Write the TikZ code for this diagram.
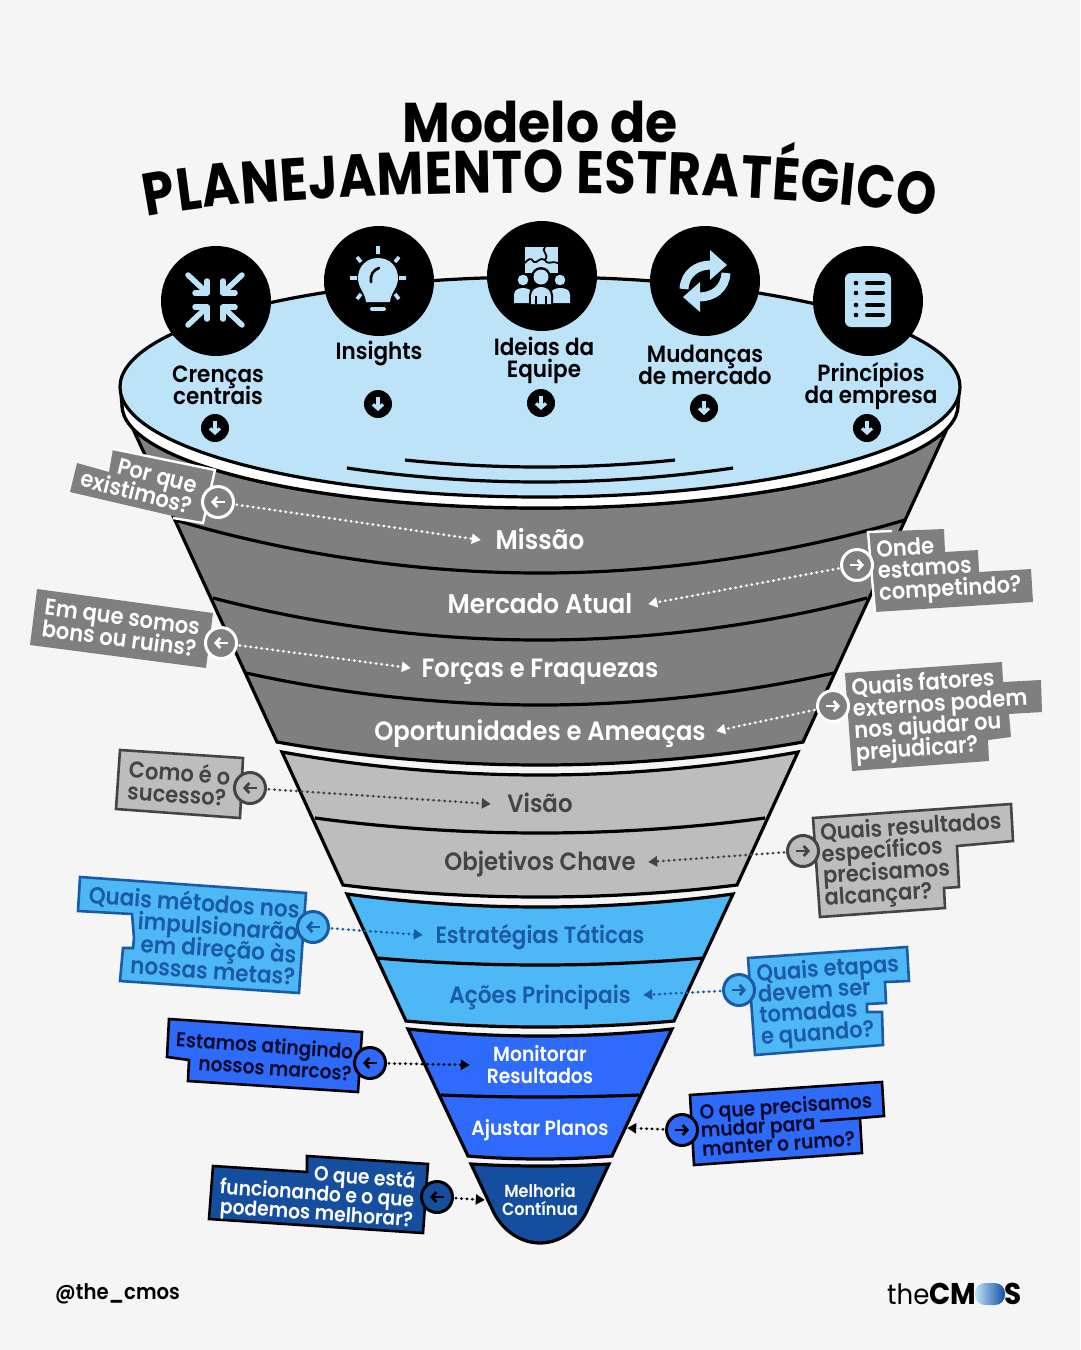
\documentclass[tikz,border=0pt]{standalone}
\usepackage{fontspec}
\setmainfont{Poppins}[UprightFont=* SemiBold,BoldFont=* Bold,FakeStretch=0.915]
\newfontfamily\titlefont{Poppins}[UprightFont=* Bold,FakeStretch=0.93]
\newfontfamily\arcfont{Poppins}[UprightFont=* Bold,FakeStretch=0.85]
\newfontfamily\regfont{Poppins}[FakeStretch=0.93]
\newcommand\fz[2]{\fontsize{#1}{#2}\selectfont\lineskiplimit=-100pt\relax}
\usetikzlibrary{arrows.meta,decorations.text,shapes.geometric}
\definecolor{bgc}{HTML}{F5F5F5}
\definecolor{bowl}{HTML}{BDE3F8}
\definecolor{gA}{HTML}{7F7F7F}
\definecolor{gB}{HTML}{BDBDBD}
\definecolor{gT}{HTML}{444444}
\definecolor{sky}{HTML}{4DB8F5}
\definecolor{skyT}{HTML}{1A5AA8}
\definecolor{roy}{HTML}{2F6BFA}
\definecolor{deep}{HTML}{164E9F}
\definecolor{inkk}{HTML}{050A2A}
\tikzset{
 seg/.style={draw=black,line width=3.2pt,line join=miter},
 divline/.style={draw=black,line width=3.2pt},
 lab/.style={font=\fz{#1}{#1},align=center,inner sep=0pt,text height={#1*0.7},text depth=0pt},
 cbtext/.style={font=\fz{23}{21.7},inner sep=0pt},
 bowltext/.style={font=\fz{23.5}{22},align=center,inner sep=0pt,text=black},
 bub/.style={circle,minimum size=31pt,inner sep=0pt,line width=3pt},
 dots/.style={line width=3pt,line cap=round,dash pattern=on 0pt off 5.5pt,shorten <=2pt,-{Triangle[length=9pt,width=10pt,sep=0pt]}},
 glyph/.style={line width=2.8pt,-{Straight Barb[length=4.5pt,width=10pt]}},
 ic/.style={draw=bowl,line width=5.5pt},
 btn/.style={circle,fill=black,minimum size=28pt,inner sep=0pt},
 blackc/.style={circle,fill=black,minimum size=110pt,inner sep=0pt},
}
\begin{document}
\begin{tikzpicture}[x=1pt,y=-1pt]
\useasboundingbox (0,0) rectangle (1080,1350);
\fill[bgc] (0,0) rectangle (1080,1350);

% title
\node[font=\titlefont\fontsize{56}{56}\selectfont,inner sep=0pt] (t1) at (540,122) {Modelo de};
\path[decorate,decoration={text along path,text align={fit to path},
 text={|\arcfont\fontsize{60}{60}\selectfont|PLANEJAMENTO ESTRATÉGICO}}]
 (147,217) .. controls (300,185) and (780,185) .. (933,217);

% funnel dark grey group
\path[seg,fill=gA] (122,405) .. controls (122,462) and (309,508) .. (540,508)
  .. controls (771,508) and (958,462) .. (958,405) -- (803,742)
  parabola bend (540,765) (277,742) -- cycle;
\path[divline] (175,520) parabola bend (540,573) (905,520);
\path[divline] (213,598) parabola bend (540,640) (867,598);
\path[divline] (246,673) parabola bend (540,705) (834,673);
% rim and bowl
\fill[white] (122,405) .. controls (122,462) and (309,508) .. (540,508)
  .. controls (771,508) and (958,462) .. (958,405) -- cycle;
\draw[line width=3.2pt] (122,405) .. controls (122,462) and (309,508) .. (540,508)
  .. controls (771,508) and (958,462) .. (958,405);
\draw[fill=bowl,line width=3.2pt] (540,387) ellipse [x radius=420pt,y radius=110pt];
\path[divline] (347,468) parabola bend (540,482) (733,468);
\path[divline] (405,460) parabola bend (540,467) (675,460);

% light grey group
\path[seg,fill=gB] (282,752) parabola bend (540,775) (798,752) -- (737,885)
  parabola bend (540,897) (343,885) -- cycle;
\path[divline] (315,818) parabola bend (540,833) (765,818);
% sky group
\path[seg,fill=sky] (347,894) parabola bend (540,907) (733,894) -- (674,1021)
  parabola bend (540,1027) (406,1021) -- cycle;
\path[divline] (377,958) parabola bend (540,965) (703,958);
% royal group
\path[seg,fill=roy] (408,1029) parabola bend (540,1036) (672,1029) -- (612,1156)
  parabola bend (540,1159) (468,1156) -- cycle;
\path[divline] (441,1095) parabola bend (540,1097) (639,1095);
% bottom
\path[seg,fill=deep] (471,1164) parabola bend (540,1166) (609,1164) -- (586,1213)
  .. controls (576,1232) and (558,1243) .. (540,1243)
  .. controls (522,1243) and (504,1232) .. (494,1213) -- cycle;

% funnel labels
\node[lab=27,text=white,minimum width=118pt] (l1) at (540,540) {Missão};
\node[lab=27,text=white,minimum width=216pt] (l2) at (540,604) {Mercado Atual};
\node[lab=26.5,text=white,minimum width=258pt] (l3) at (540,668) {Forças e Fraquezas};
\node[lab=26.5,text=white,minimum width=352pt] (l4) at (540,731) {Oportunidades e Ameaças};
\node[lab=25,text=gT,minimum width=98pt] (l5) at (540,804) {Visão};
\node[lab=25,text=gT,minimum width=216pt] (l6) at (540,862) {Objetivos Chave};
\node[lab=23.5,text=skyT,minimum width=234pt] (l7) at (540,935) {Estratégias Táticas};
\node[lab=23.7,text=skyT,minimum width=206pt] (l8) at (540,995) {Ações Principais};
\node[font=\fz{20.5}{22},align=center,inner sep=0pt,text=white,minimum width=140pt] (l9) at (540,1065) {Monitorar\\Resultados};
\node[lab=20.5,text=white,minimum width=174pt] (l10) at (540,1128) {Ajustar Planos};
\node[font=\fz{17.5}{18},align=center,inner sep=0pt,text=white,minimum width=110pt] (l11) at (540,1200) {Melhoria\\Contínua};

% bowl icons and labels
\node[blackc] (i1) at (216,301) {};
\node[blackc] (i2) at (379,281) {};
\node[blackc] (i3) at (542,276) {};
\node[blackc] (i4) at (705,281) {};
\node[blackc] (i5) at (868,301) {};
\node[bowltext] (b1) at (218,385) {Crenças\\centrais};
\node[bowltext] (b2) at (379,353) {Insights};
\node[bowltext] (b3) at (544,360) {Ideias da\\Equipe};
\node[bowltext] (b4) at (705,365) {Mudanças\\de mercado};
\node[bowltext] (b5) at (871,386) {Princípios\\da empresa};
\foreach \nm/\x/\y in {d1/215/428,d2/378/404,d3/541/403,d4/704/408,d5/867/428}{
  \node[btn] (\nm) at (\x,\y) {};
  \draw[glyph,draw=bowl,line width=3.2pt] ([yshift=7pt]\nm.center) -- ([yshift=-7pt]\nm.center);
}
% icon 1
\begin{scope}[shift={(215,300)}]
 \foreach \sx/\sy in {1/1,-1/1,1/-1,-1/-1}{
  \draw[ic,line cap=round] (\sx*27,\sy*25) -- (\sx*10,\sy*9);
  \draw[ic,line join=round,line cap=round] (\sx*8,\sy*19) -- (\sx*8,\sy*7) -- (\sx*20,\sy*7);
 }
\end{scope}
% icon 2
\begin{scope}[shift={(378,280)}]
 \fill[bowl] (-20,-2) .. controls (-20,-14) and (-11,-22) .. (0,-22)
   .. controls (11,-22) and (20,-14) .. (20,-2)
   .. controls (20,8) and (13,12) .. (12,22) -- (-12,22)
   .. controls (-13,12) and (-20,8) .. (-20,-2) -- cycle;
 \draw[black,line width=2.6pt,line cap=round] (-7,2) .. controls (-8,-5) and (-5,-10) .. (1,-12);
 \draw[bowl,line width=4pt,line cap=round] (-6,29) -- (6,29);
 \draw[bowl,line width=3.6pt,line cap=butt] (0,-34) -- (0,-26) (-28,-2) -- (-21,-2) (21,-2) -- (28,-2)
   (-21,-23) -- (-17,-18) (21,-23) -- (17,-18) (-21,19) -- (-17,14) (21,19) -- (17,14);
\end{scope}
% icon 3
\begin{scope}[shift={(542,276)}]
 \fill[bowl] (-17,-29) rectangle (16,-3);
 \draw[black,line width=1.8pt] (3,-29) .. controls (-2,-25) and (8,-22) .. (3,-16)
    .. controls (-2,-20) and (-5,-12) .. (-8,-14) .. controls (-11,-19) and (-14,-17) .. (-17,-13)
    (3,-16) .. controls (6,-10) and (10,-16) .. (16,-13);
 \fill[black] (-1,1) circle [radius=10pt];
 \fill[black] (-19,4) circle [radius=7pt];
 \fill[black] (18,4) circle [radius=7pt];
 \fill[bowl] (-1,1) circle [radius=7.5pt];
 \fill[bowl] (-19,4) circle [radius=5.3pt];
 \fill[bowl] (18,4) circle [radius=5.3pt];
 \fill[bowl] (-28,27) -- (-28,19) .. controls (-28,14) and (-24,12) .. (-19,12) .. controls (-15,12) and (-11,14) .. (-10,16) -- (-10,27) -- cycle;
 \fill[bowl] (28,27) -- (28,19) .. controls (28,14) and (24,12) .. (18,12) .. controls (14,12) and (10,14) .. (9,16) -- (9,27) -- cycle;
 \fill[black] (-13,29) -- (-13,19) .. controls (-13,13) and (-7,9) .. (-1,9) .. controls (5,9) and (11,13) .. (11,19) -- (11,29) -- cycle;
 \fill[bowl] (-11,28) -- (-11,20) .. controls (-11,14) and (-6,11) .. (-1,11) .. controls (4,11) and (9,14) .. (9,20) -- (9,28) -- cycle;
 \draw[black,line width=1.6pt] (-6,28) -- (-6,20) (4,28) -- (4,20);
\end{scope}
% icon 4
\begin{scope}[shift={(705,281)}]
 \foreach \s in {1,-1}{
  \draw[bowl,line width=9pt] (\s*-21,\s*8) .. controls (\s*-20,\s*-8) and (\s*-8,\s*-16) .. (\s*6,\s*-16);
  \fill[bowl] (\s*5,\s*-31) -- (\s*22,\s*-16) -- (\s*5,\s*-1) -- cycle;
 }
\end{scope}
% icon 5
\begin{scope}[shift={(868,300)}]
 \fill[bowl,rounded corners=6pt] (-23,-27) rectangle (23,27);
 \foreach \yy in {-17,-7,5,15}{
  \fill[black] (-12,\yy) circle [radius=2.3pt];
  \draw[black,line width=4pt,line cap=round] (-1,\yy) -- (15,\yy);
 }
\end{scope}

% callout boxes
% 1
\fill[gA] (113,449) -- (215,470) -- (203,523) -- (70,492) -- (77,463) -- (109,472) -- cycle;
\draw[white,line width=2.4pt] (113,449) -- (215,470) -- (203,523) -- (173,518);
\node[cbtext,text=white,align=right,rotate=-14.5] (q1) at (139,482) {Por que\\existimos?};
% 2
\fill[gA] (868,532) -- (944,529) -- (945,552) -- (978,550) -- (979,572) -- (1031,569) -- (1033,602) -- (875,612) -- cycle;
\draw[white,line width=2.4pt] (892,531) -- (868,532) -- (875,612);
\node[cbtext,text=white,align=left,rotate=3.5] (q2) at (949,569) {Onde\\estamos\\competindo?};
% 3
\fill[gA] (37,589) -- (213,613) -- (206,668) -- (30,645) -- cycle;
\node[cbtext,text=white,align=left,rotate=-7.5] (q3) at (121,628) {Em que somos\\bons ou ruins?};
% 4
\fill[gA] (845,673) -- (1002,662) -- (1003,682) -- (1041,680) -- (1042,712) -- (1009,714) -- (1011,737) -- (988,740) -- (989,761) -- (852,771) -- cycle;
\node[cbtext,text=white,align=left,rotate=3.8] (q4) at (941,716) {Quais fatores\\externos podem\\nos ajudar ou\\prejudicar?};
% 5
\draw[fill=gB,draw=gT,line width=2.6pt] (120,750) -- (243,758) -- (240,818) -- (116,809) -- cycle;
\node[cbtext,text=gT,align=left,rotate=-4] (q5) at (179,783) {Como é o\\sucesso?};
% 6
\draw[fill=gB,draw=gT,line width=2.6pt] (813,818) -- (1011,804) -- (1013,841) -- (957,846) -- (959,887) -- (944,888) -- (945,908) -- (820,917) -- cycle;
\node[cbtext,text=gT,align=left,rotate=3.8] (q6) at (913,861) {Quais resultados\\específicos\\precisamos\\alcançar?};
% 7
\draw[fill=sky,draw=skyT,line width=2.6pt] (80,877) -- (306,893) -- (299,993) -- (120,981) -- (123,948) -- (133,948) -- (134,938) -- (132,914) -- (78,911) -- cycle;
\node[cbtext,text=skyT,align=right,rotate=-4,font=\fz{23.5}{22.4}] (q7) at (192,935) {Quais métodos nos\\impulsionarão\\em direção às\\nossas metas?};
% 8
\draw[fill=roy,draw=black,line width=2.6pt] (169,1019) -- (362,1032) -- (358,1092) -- (188,1081) -- (189,1060) -- (167,1057) -- cycle;
\node[cbtext,text=inkk,align=right,rotate=-4,font=\fz{20.3}{21.7}] (q8) at (264,1056) {Estamos atingindo\\nossos marcos?};
% 9
\draw[fill=deep,draw=black,line width=2.6pt] (307,1156) -- (428,1164) -- (423,1233) -- (209,1219) -- (213,1166) -- (307,1172) -- cycle;
\node[cbtext,text=white,align=right,rotate=-4,font=\fz{20.4}{19.5}] (q9) at (317,1195) {O que está\\funcionando e o que\\podemos melhorar?};
% 10
\draw[fill=sky,draw=skyT,line width=2.6pt] (748,958) -- (907,947) -- (909,981) -- (885,982) -- (886,1003) -- (867,1004) -- (867,1012) -- (882,1012) -- (883,1045) -- (755,1055) -- cycle;
\node[cbtext,text=skyT,align=left,rotate=4,font=\fz{23}{21}] (q10) at (830,1002) {Quais etapas\\devem ser\\tomadas\\e quando?};
% 11
\draw[fill=roy,draw=black,line width=2.6pt] (690,1095) -- (882,1082) -- (884,1116) -- (860,1118) -- (862,1153) -- (694,1165) -- cycle;
\draw[line width=2.6pt] (820,1121) -- (860,1118);
\node[cbtext,text=inkk,align=left,rotate=3.8,font=\fz{20.4}{18.5}] (q11) at (787,1124) {O que precisamos\\mudar para\\manter o rumo?};

% connector bubbles
\node[bub,draw=white,fill=gA] (c1) at (218,502) {};
\node[bub,draw=white,fill=gA] (c2) at (857,565) {};
\node[bub,draw=white,fill=gA] (c3) at (221,643) {};
\node[bub,draw=white,fill=gA] (c4) at (833,706) {};
\node[bub,draw=gT,fill=gB] (c5) at (250,788) {};
\node[bub,draw=gT,fill=gB] (c6) at (803,851) {};
\node[bub,draw=skyT,fill=sky] (c7) at (313,927) {};
\node[bub,draw=black,fill=roy] (c8) at (370,1063) {};
\node[bub,draw=black,fill=deep] (c9) at (437,1197) {};
\node[bub,draw=skyT,fill=sky] (c10) at (739,990) {};
\node[bub,draw=black,fill=roy] (c11) at (682,1130) {};
% glyphs
\foreach \nm/\cc in {c1/white,c3/white,c5/gT,c7/skyT,c8/black,c9/black}{
  \draw[glyph,draw=\cc] ([xshift=7pt]\nm.center) -- ([xshift=-7pt]\nm.center);
}
\foreach \nm/\cc in {c2/white,c4/white,c6/gT,c10/skyT,c11/black}{
  \draw[glyph,draw=\cc] ([xshift=-7pt]\nm.center) -- ([xshift=7pt]\nm.center);
}
% connectors
\draw[dots,draw=white,fill=white] (c1) -- (l1.west);
\draw[dots,draw=white,fill=white] (c2) -- (l2.east);
\draw[dots,draw=white,fill=white] (c3) -- (l3.west);
\draw[dots,draw=white,fill=white] (c4) -- (l4.east);
\draw[dots,draw=gT,fill=gT] (c5) -- (l5.west);
\draw[dots,draw=gT,fill=gT] (c6) -- (l6.east);
\draw[dots,draw=skyT,fill=skyT] (c7) -- (l7.west);
\draw[dots,draw=skyT,fill=skyT] (c10) -- (l8.east);
\draw[dots,draw=black,fill=black] (c8) -- (l9.west);
\draw[dots,draw=black,fill=black] (c11) -- (l10.east);
\draw[dots,draw=black,fill=black] (c9) -- (l11.west);

% footer
\node[font=\fz{21.5}{22},anchor=west,inner sep=0pt] (f1) at (55,1294) {@the\_cmos};
\node[font=\regfont\fontsize{28}{28}\selectfont,anchor=base west,inner sep=0pt] (f2) at (887,1304) {the};
\node[font=\titlefont\fontsize{30}{30}\selectfont,anchor=base west,inner sep=0pt] (f3) at (929,1304) {CM};
\node[font=\titlefont\fontsize{30}{30}\selectfont,anchor=base east,inner sep=0pt] (f4) at (1022,1304) {S};
\shade[left color=bowl,right color=deep,rounded corners=10pt] (975,1283) rectangle (1005,1305);
\end{tikzpicture}
\end{document}
